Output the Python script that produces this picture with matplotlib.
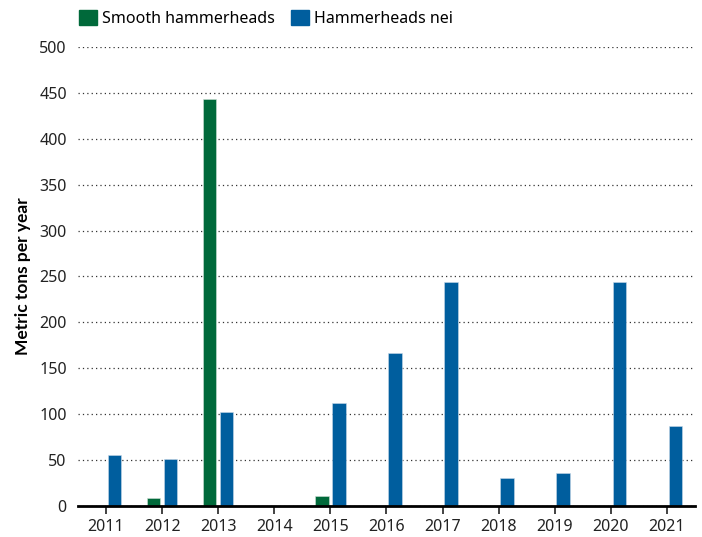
import numpy as np
import matplotlib.pyplot as plt
from matplotlib.patches import Patch

plt.rcParams['font.family'] = ['Noto Sans', 'DejaVu Sans']

years = ['2011', '2012', '2013', '2014', '2015', '2016', '2017', '2018', '2019', '2020', '2021']
smooth = [0, 8.5, 443, 0, 10.5, 0, 0, 0, 0, 0, 0]
nei = [55.5, 51, 102, 0, 112.5, 167, 244, 30, 36, 244, 87]

green = '#00693a'
blue = '#005e9e'

fig = plt.figure(figsize=(7.02, 5.37), dpi=100)
ax = fig.add_axes([0.111, 0.0577, 0.879, 0.855])

x = np.arange(len(years))
w = 0.24
ax.bar(x - 0.15, smooth, w, color=green, edgecolor='#cfe0d6', linewidth=0.4, zorder=3)
ax.bar(x + 0.15, nei, w, color=blue, edgecolor='#c8d8e8', linewidth=0.4, zorder=3)

ax.set_xlim(-0.5, len(years) - 0.5)
ax.set_ylim(0, 500)
ax.set_yticks(range(0, 501, 50))
ax.set_xticks(x)
ax.set_xticklabels(years)
ax.yaxis.grid(True, linestyle=(0, (1, 2.5)), color='#333333', linewidth=0.9)
ax.set_axisbelow(True)
for s in ['top', 'right', 'left']:
    ax.spines[s].set_visible(False)
ax.spines['bottom'].set_linewidth(2)
ax.spines['bottom'].set_zorder(4)
ax.tick_params(axis='y', length=0, labelsize=11.5, colors='#222222', pad=8)
ax.tick_params(axis='x', length=6, width=1.2, direction='out', labelsize=11.5, colors='#222222', pad=3)
ax.set_ylabel('Metric tons per year', fontsize=12.5, fontweight='bold', family=['Lato', 'DejaVu Sans'],
              labelpad=6)

handles = [Patch(color=green, label='Smooth hammerheads'), Patch(color=blue, label='Hammerheads nei')]
fig.legend(handles=handles, loc='upper left', bbox_to_anchor=(0.092, 1.008), ncol=2, frameon=False,
           fontsize=11.5, handlelength=1.1, handleheight=1.1, handletextpad=0.35, columnspacing=1.0)

fig.savefig('out.png', dpi=100)
